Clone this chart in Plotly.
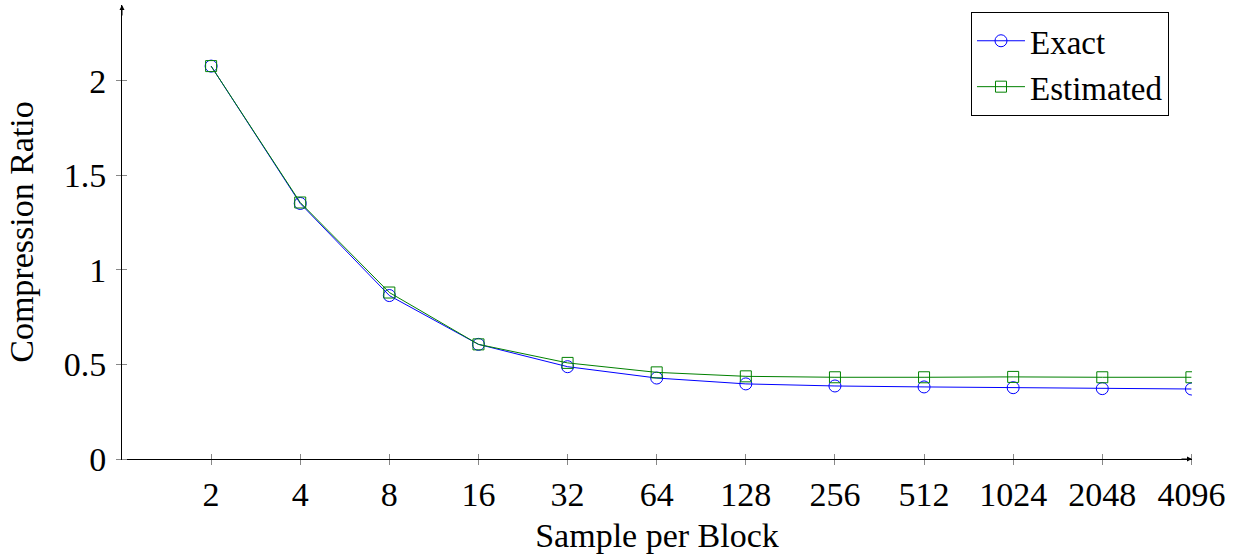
import plotly.graph_objects as go
import math

samples = [2, 4, 8, 16, 32, 64, 128, 256, 512, 1024, 2048, 4096]
exact = [2.077, 1.351, 0.864, 0.606, 0.488, 0.428, 0.397, 0.386, 0.381, 0.377, 0.372, 0.370]
estimated = [2.077, 1.356, 0.880, 0.606, 0.508, 0.458, 0.437, 0.432, 0.432, 0.434, 0.432, 0.432]
tick_labels = [str(s) for s in samples]
y_ticks = [0, 0.5, 1, 1.5, 2]
y_tick_labels = ["0", "0.5", "1", "1.5", "2"]

FONT = "Liberation Serif"
fig = go.Figure()
fig.add_trace(go.Scatter(x=samples, y=exact, name="Exact", mode="lines+markers",
                         line=dict(color="#0000ff", width=1),
                         marker=dict(symbol="circle-open", size=12, color="#0000ff", line=dict(width=1))))
fig.add_trace(go.Scatter(x=samples, y=estimated, name="Estimated", mode="lines+markers",
                         line=dict(color="#008000", width=1),
                         marker=dict(symbol="square-open", size=11, color="#008000", line=dict(width=1))))

fig.update_layout(
    width=1239, height=555,
    margin=dict(l=122, r=47, t=5, b=96),
    plot_bgcolor="white", paper_bgcolor="white",
    font=dict(family=FONT, size=34, color="black"),
    showlegend=True,
    legend=dict(x=0.9785, y=0.985, xanchor="right", yanchor="top",
                bordercolor="black", borderwidth=1, bgcolor="white",
                font=dict(size=33), tracegroupgap=0, itemwidth=48),
    xaxis=dict(type="log", range=[0, math.log10(4096) + 0.002],
               tickvals=samples, ticktext=tick_labels,
               showgrid=False, zeroline=False, automargin=False,
               showline=True, linecolor="black", linewidth=1,
               ticks="outside", ticklen=5, tickcolor="#888888",
               minor=dict(tickvals=samples, ticks="inside", ticklen=5, tickcolor="#888888"),
               title=dict(text="Sample per Block", standoff=11, font=dict(size=34))),
    yaxis=dict(range=[0, 2.4], tickvals=y_ticks, ticktext=y_tick_labels,
               showgrid=False, zeroline=False, automargin=False,
               showline=True, linecolor="black", linewidth=1,
               ticks="outside", ticklen=5, tickcolor="#888888",
               ticklabelstandoff=3,
               minor=dict(tickvals=y_ticks, ticks="inside", ticklen=5, tickcolor="#888888"),
               title=dict(text="Compression Ratio", standoff=19, font=dict(size=34))),
)

# arrow heads at the ends of the axes
fig.add_annotation(x=1, y=0, xref="paper", yref="paper", ax=-12, ay=0, axref="pixel", ayref="pixel",
                   showarrow=True, arrowhead=2, arrowsize=1, arrowwidth=1, arrowcolor="black", text="")
fig.add_annotation(x=0, y=1, xref="paper", yref="paper", ax=0, ay=12, axref="pixel", ayref="pixel",
                   showarrow=True, arrowhead=2, arrowsize=1, arrowwidth=1, arrowcolor="black", text="")

fig.write_html("out.html", config={"displayModeBar": False},
               post_script="document.body.style.margin='0';")
